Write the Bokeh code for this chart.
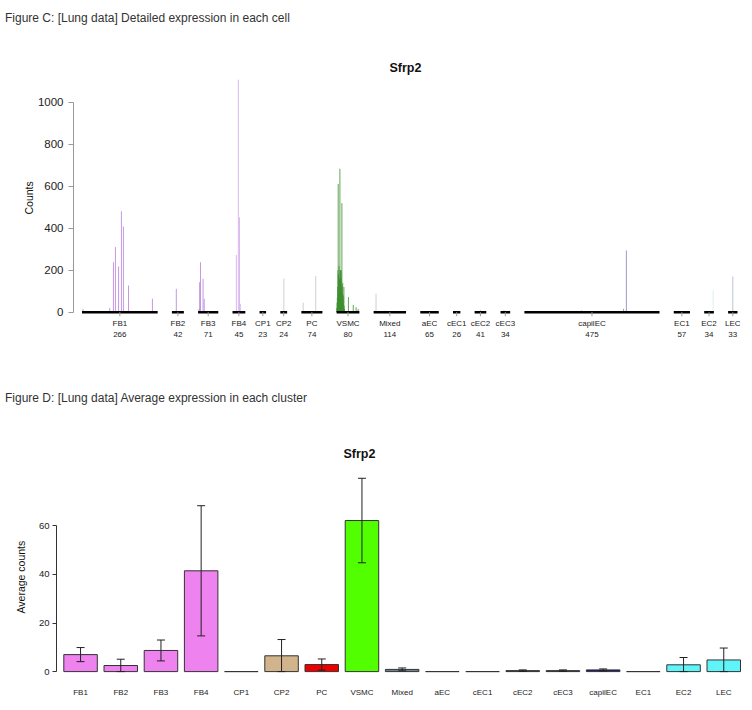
import numpy as np
from bokeh.plotting import figure
from bokeh.models import Range1d, FixedTicker, Div, ColumnDataSource, Title
from bokeh.embed import file_html
from bokeh.resources import INLINE
from bokeh.core.properties import value

# ---------------- data ----------------
clusters = ["FB1", "FB2", "FB3", "FB4", "CP1", "CP2", "PC", "VSMC", "Mixed", "aEC",
            "cEC1", "cEC2", "cEC3", "capilEC", "EC1", "EC2", "LEC"]
cell_counts = [266, 42, 71, 45, 23, 24, 74, 80, 114, 65, 26, 41, 34, 475, 57, 34, 33]

# Figure C: non-zero cells only (cluster, cell index inside cluster, count)
spike_cluster = (["FB1"] * 9 + ["FB2"] + ["FB3"] * 5 + ["FB4"] * 4 + ["CP2"] + ["PC"] * 2
                 + ["VSMC"] * 32 + ["Mixed"] * 3 + ["cEC2"] + ["cEC3"] + ["capilEC"] * 3
                 + ["EC2"] + ["LEC"])
spike_cell = ([3, 97, 110, 117, 128, 138, 145, 163, 247]
              + [15]
              + [3, 5, 8, 17, 21]
              + [13, 20, 24, 27]
              + [12]
              + [6, 50]
              + [0, 1, 2, 3, 4, 5, 6, 7, 8, 9, 10, 11, 12, 13, 14, 15, 16, 17, 18, 19,
                 20, 21, 22, 23, 24, 25, 26, 27, 41, 58, 68, 75]
              + [8, 40, 70]
              + [20]
              + [12]
              + [200, 348, 358]
              + [31]
              + [16])
spike_count = ([15, 20, 238, 310, 218, 481, 408, 127, 64]
               + [111]
               + [15, 143, 238, 159, 64]
               + [273, 1107, 452, 40]
               + [160]
               + [45, 172]
               + [20, 45, 70, 120, 200, 611, 180, 180, 220, 150, 160, 683, 200, 200, 170, 160,
                  200, 120, 519, 130, 90, 140, 60, 40, 80, 120, 30, 15, 72, 35, 24, 15]
               + [88, 8, 5]
               + [12]
               + [10]
               + [8, 16, 294]
               + [103]
               + [170])
top_y_ticks = [0, 200, 400, 600, 800, 1000]

# Figure D: average counts per cluster and error half-widths
avg_counts = [7.0, 2.5, 8.7, 41.5, 0.0, 6.5, 2.9, 62.2, 0.9, 0.0, 0.0, 0.4, 0.4, 0.7, 0.0, 2.8, 4.8]
avg_err = [2.9, 2.6, 4.3, 26.8, 0.0, 6.7, 2.3, 17.4, 0.6, 0.0, 0.0, 0.3, 0.3, 0.4, 0.0, 3.0, 4.9]
bottom_y_ticks = [0, 20, 40, 60]

# ---------------- style ----------------
FONT = "Liberation Sans"
bar_colors = {"FB1": "#EE82EE", "FB2": "#EE82EE", "FB3": "#EE82EE", "FB4": "#EE82EE",
              "CP1": "#D2B48C", "CP2": "#D2B48C", "PC": "#EE0000", "VSMC": "#52FF00",
              "Mixed": "#708090", "aEC": "#000080", "cEC1": "#000080", "cEC2": "#000080",
              "cEC3": "#000080", "capilEC": "#101090", "EC1": "#000080", "EC2": "#5FF5F8",
              "LEC": "#5FF5F8"}
spike_colors = {"FB1": "#b57edc", "FB2": "#b57edc", "FB3": "#b57edc", "FB4": "#cfa8ea",
                "VSMC": "#3f8f2f", "capilEC": "#8585aa", "EC2": "#cfeeee", "LEC": "#aab6c6"}
GAP = 50  # empty cells between clusters


def style_title(t, size, bold):
    t.text_font = FONT
    t.text_font_size = size
    t.text_font_style = "bold" if bold else "normal"
    t.text_color = "#111111"


# ---------------- Figure C ----------------
starts, pos = [], 0
for n in cell_counts:
    starts.append(pos)
    pos += n + GAP
ends = [s + n for s, n in zip(starts, cell_counts)]
centers = [(s + e) / 2 for s, e in zip(starts, ends)]
cidx = {c: i for i, c in enumerate(clusters)}

sx = [starts[cidx[c]] + k + 0.5 for c, k in zip(spike_cluster, spike_cell)]
scol = [spike_colors.get(c, "#c4c4c4") for c in spike_cluster]
spikes = ColumnDataSource(dict(x=sx, y0=[0] * len(sx), y1=spike_count, color=scol))

p1 = figure(width=750, height=355, x_range=Range1d(-29.9, 2314.6), y_range=Range1d(-144.3, 1122.4),
            output_backend="svg", toolbar_location=None, x_axis_location=None,
            min_border_left=73, min_border_right=10, min_border_top=46, min_border_bottom=43,
            margin=(0, 0, 0, 0))
p1.title.text = "Sfrp2"
p1.title.align = "left"
p1.title.offset = 316
p1.title.standoff = 3
style_title(p1.title, "12.5px", True)

p1.segment(x0="x", y0="y0", x1="x", y1="y1", source=spikes, line_color="color",
           line_width=1, line_alpha=0.8)
p1.segment(x0=starts, y0=0, x1=ends, y1=0, line_color="black", line_width=2.6)
p1.ray(x=centers, y=0, length=4, length_units="screen", angle=-np.pi / 2,
       line_color="#999999", line_width=1)
p1.text(x=centers, y=0, text=clusters, y_offset=11, text_align="center",
        text_baseline="middle", text_font=value(FONT), text_font_size="8px", text_color="#222222")
p1.text(x=centers, y=0, text=[str(n) for n in cell_counts], y_offset=22, text_align="center",
        text_baseline="middle", text_font=value(FONT), text_font_size="8px", text_color="#222222")

ya = p1.yaxis[0]
ya.ticker = FixedTicker(ticks=top_y_ticks)
ya.bounds = (0, 1000)
ya.axis_line_color = "#999999"
ya.major_tick_line_color = "#999999"
ya.major_tick_out = 5
ya.major_tick_in = 0
ya.minor_tick_line_color = None
ya.major_label_standoff = 5
ya.major_label_text_font = FONT
ya.major_label_text_font_size = "11.5px"
ya.major_label_text_color = "#222222"
t1 = Title(text="Counts", align="left", offset=128, standoff=0)
style_title(t1, "10.5px", False)
p1.add_layout(t1, "left")
p1.xgrid.visible = False
p1.ygrid.visible = False
p1.outline_line_color = None

# ---------------- Figure D ----------------
bx = [0.7 + 1.2 * i for i in range(len(clusters))]
lo = [max(0.0, m - e) for m, e in zip(avg_counts, avg_err)]
hi = [m + e for m, e in zip(avg_counts, avg_err)]
has_err = [e > 0 for e in avg_err]
ex = [x for x, h in zip(bx, has_err) if h]
elo = [v for v, h in zip(lo, has_err) if h]
ehi = [v for v, h in zip(hi, has_err) if h]

p2 = figure(width=752, height=290, x_range=Range1d(-0.018, 20.758), y_range=Range1d(-11.9, 82.8),
            output_backend="svg", toolbar_location=None, x_axis_location=None,
            min_border_left=56, min_border_right=0, min_border_top=60, min_border_bottom=0,
            margin=(0, 0, 0, 0))
p2.title.text = "Sfrp2"
p2.title.align = "left"
p2.title.offset = 287
p2.title.standoff = 19
style_title(p2.title, "12.5px", True)

p2.vbar(x=bx, width=1.0, top=avg_counts, bottom=0,
        fill_color=[bar_colors[c] for c in clusters], line_color="#333333", line_width=1)
p2.segment(x0=ex, y0=elo, x1=ex, y1=ehi, line_color="#222222", line_width=1)
p2.scatter(x=ex, y=ehi, marker="dash", size=8, line_color="#222222", line_width=1)
p2.scatter(x=ex, y=elo, marker="dash", size=8, line_color="#222222", line_width=1)
p2.text(x=bx, y=0, text=clusters, y_offset=21, text_align="center", text_baseline="middle",
        text_font=value(FONT), text_font_size="8px", text_color="#222222")

yb = p2.yaxis[0]
yb.ticker = FixedTicker(ticks=bottom_y_ticks)
yb.bounds = (0, 60)
yb.axis_line_color = "#333333"
yb.major_tick_line_color = "#333333"
yb.major_tick_out = 4
yb.major_tick_in = 0
yb.minor_tick_line_color = None
yb.major_label_standoff = 3
yb.major_label_text_font = FONT
yb.major_label_text_font_size = "9.5px"
yb.major_label_text_color = "#222222"
t2 = Title(text="Average counts", align="left", offset=87, standoff=18)
style_title(t2, "10.5px", False)
p2.add_layout(t2, "left")
p2.xgrid.visible = False
p2.ygrid.visible = False
p2.outline_line_color = None

# ---------------- page ----------------
hdr = ('<div style="font-family: \'Liberation Sans\', Arial, sans-serif; font-size: 12px; '
       'color: #333333; padding-left: 5px; padding-top: {top}px; white-space: nowrap;">{t}</div>')
d1 = Div(text=hdr.format(top=10, t="Figure C: [Lung data] Detailed expression in each cell"),
         width=752, height=30, margin=(0, 0, 0, 0))
d2 = Div(text=hdr.format(top=5, t="Figure D: [Lung data] Average expression in each cluster"),
         width=752, height=25, margin=(0, 0, 0, 0))

# separate roots, so that the two plot frames are not aligned with each other
open("out.html", "w").write(file_html([d1, p1, d2, p2], INLINE))
